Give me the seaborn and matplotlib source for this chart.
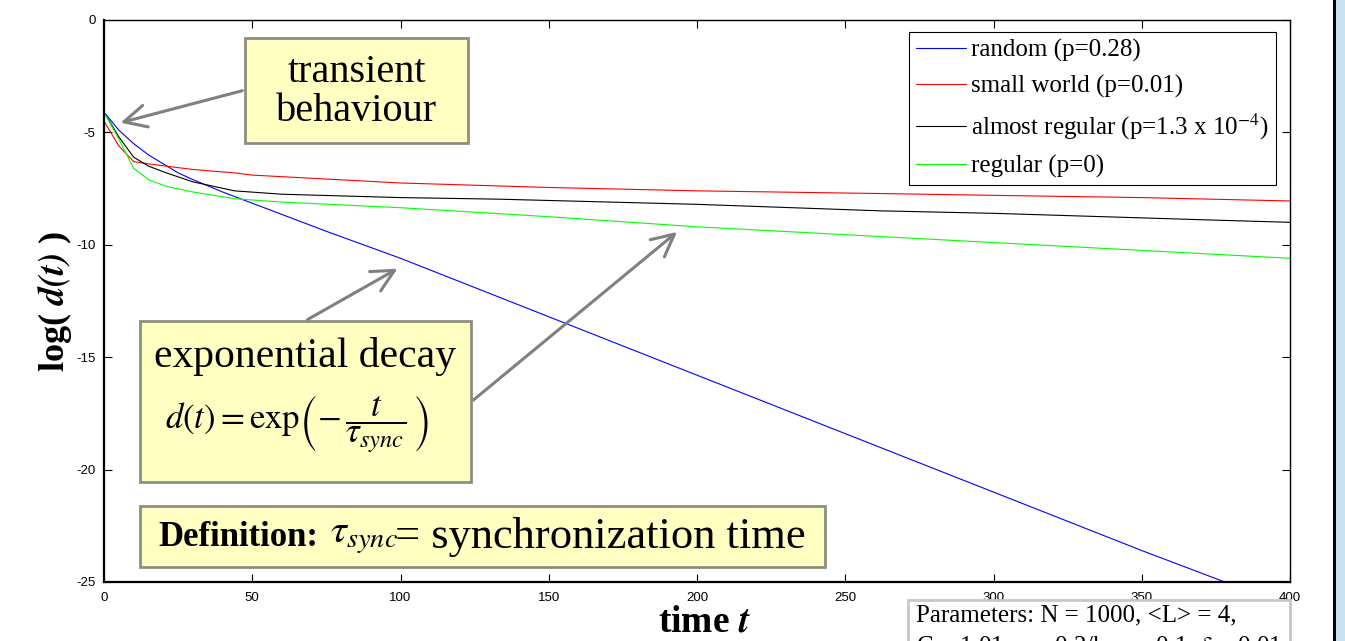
import matplotlib
matplotlib.use('Agg')
import matplotlib.pyplot as plt
from matplotlib.patches import Rectangle
import numpy as np
import pandas as pd
import seaborn as sns

# values (t, log d(t))
t_random = [0, 5, 10, 15, 20, 25, 30, 40, 50, 75, 100, 150, 200, 250, 300, 350, 378, 400]
y_random = [-4.1, -4.9, -5.5, -6.0, -6.4, -6.8, -7.1, -7.65, -8.15, -9.4, -10.6, -13.2,
            -15.8, -18.4, -21.0, -23.6, -25.0, -26.1]

t_small = [0, 5, 10, 15, 21, 30, 44, 50, 100, 150, 200, 262, 300, 350, 400]
y_small = [-4.5, -5.6, -6.3, -6.4, -6.5, -6.65, -6.8, -6.9, -7.25, -7.45, -7.6, -7.72,
           -7.8, -7.9, -8.05]

t_almost = [0, 5, 10, 15, 21, 30, 44, 60, 100, 133, 200, 262, 300, 374, 400]
y_almost = [-4.1, -5.2, -6.1, -6.5, -6.8, -7.2, -7.6, -7.75, -7.9, -7.97, -8.2, -8.49,
            -8.6, -8.9, -9.0]

t_regular = [0, 5, 10, 15, 21, 30, 44, 60, 100, 150, 200, 250, 300, 350, 400]
y_regular = [-4.1, -5.3, -6.6, -7.1, -7.4, -7.65, -7.95, -8.1, -8.35, -8.75, -9.2,
             -9.55, -9.9, -10.25, -10.6]

labels = ['random (p=0.28)', 'small world (p=0.01)',
          'almost regular (p=1.3 x 10$^{-4}$)', 'regular (p=0)']
colors = ['#0000FF', '#FF0000', '#000000', '#00FF00']

x_ticks = [0, 50, 100, 150, 200, 250, 300, 350, 400]
y_ticks = [0, -5, -10, -15, -20, -25]

frames = []
for t, y, lab in zip([t_random, t_small, t_almost, t_regular],
                     [y_random, y_small, y_almost, y_regular], labels):
    frames.append(pd.DataFrame({'t': t, 'logd': y, 'network': lab}))
df = pd.concat(frames, ignore_index=True)

sns.set_theme(style='ticks', rc={'text.color': 'black', 'axes.edgecolor': 'black',
                                 'xtick.color': 'black', 'ytick.color': 'black',
                                 'axes.labelcolor': 'black',
                                 'axes.unicode_minus': False})
plt.rcParams['mathtext.fontset'] = 'stix'
plt.rcParams['font.family'] = ['Liberation Serif', 'DejaVu Serif']

W, H = 1345, 641
fig = plt.figure(figsize=(W / 100, H / 100), dpi=100)
fig.patch.set_facecolor('white')


def fx(px):
    return px / W


def fy(py):
    return 1 - py / H


ax = fig.add_axes([fx(104), fy(582), fx(1290) - fx(104), fy(20) - fy(582)])
sns.lineplot(data=df, x='t', y='logd', hue='network', palette=colors,
             hue_order=labels, linewidth=0.8, ax=ax, sort=False)

ax.set_xlim(0, 400)
ax.set_ylim(-25, 0)
ax.set_xticks(x_ticks)
ax.set_yticks(y_ticks)
ax.tick_params(direction='in', top=True, right=True, length=6, width=0.8,
               labelsize=9.5)
ax.tick_params(axis='x', pad=7)
ax.tick_params(axis='y', pad=6)
for lab in ax.get_xticklabels() + ax.get_yticklabels():
    lab.set_family('Liberation Sans')
for s in ['left', 'bottom']:
    ax.spines[s].set_linewidth(1.6)
for s in ['top', 'right']:
    ax.spines[s].set_linewidth(1.0)
ax.set_xlabel('')
ax.set_ylabel('')

leg = ax.legend(loc='upper right', bbox_to_anchor=(0.9885, 0.979), fontsize=18,
                frameon=True, fancybox=False, edgecolor='black', framealpha=1,
                handlelength=2.0, handletextpad=0.2, labelspacing=0.52,
                borderpad=0.3, borderaxespad=0)
leg.get_frame().set_linewidth(0.8)
leg.set_title(None)

# axis labels
fig.text(fx(55), fy(302), r'log( $\mathbfit{d(t)}$ )', rotation=90, fontsize=26,
         fontweight='bold', ha='center', va='center')
fig.text(fx(704), fy(622), r'time $\mathbfit{t}$', fontsize=27, fontweight='bold',
         ha='center', va='center')

# annotation boxes
box_fc = '#FFFFC2'
box_ec = '#8E8E80'
for (x0, y0, x1, y1) in [(245, 38, 468, 143), (140, 321, 471, 482), (140, 506, 825, 567)]:
    fig.patches.append(Rectangle((fx(x0), fy(y1)), fx(x1) - fx(x0), fy(y0) - fy(y1),
                                 transform=fig.transFigure, facecolor=box_fc,
                                 edgecolor=box_ec, linewidth=2, zorder=5))

fig.text(fx(357), fy(92), 'transient\nbehaviour', fontsize=29, ha='center',
         va='center', linespacing=1.1, zorder=6)
fig.text(fx(305), fy(356), 'exponential decay', fontsize=30, ha='center',
         va='center', zorder=6)
fig.text(fx(297), fy(425), r'$d(t) = \mathrm{exp}\left(-\,\dfrac{t}{\tau_{sync}}\,\right)$',
         fontsize=25, ha='center', va='center', zorder=6)
fig.text(fx(158), fy(538), 'Definition:', fontsize=25, fontweight='bold',
         ha='left', va='center', zorder=6)
fig.text(fx(330), fy(538), r'$\tau_{sync}$', fontsize=29,
         ha='left', va='center', zorder=6)
fig.text(fx(395), fy(537), '= synchronization time', fontsize=32,
         ha='left', va='center', zorder=6)

# arrows
arrow_kw = dict(arrowstyle='->,head_length=0.8,head_width=0.4', color='#808080',
                lw=2.2, mutation_scale=20)
ax.annotate('', xy=(4.7, -4.6), xycoords='data', xytext=(fx(245), fy(90)),
            textcoords='figure fraction', arrowprops=arrow_kw, zorder=6)
ax.annotate('', xy=(99.8, -11.0), xycoords='data', xytext=(fx(305), fy(321)),
            textcoords='figure fraction', arrowprops=arrow_kw, zorder=6)
ax.annotate('', xy=(194, -9.35), xycoords='data', xytext=(fx(471), fy(402)),
            textcoords='figure fraction', arrowprops=arrow_kw, zorder=6)

# parameters box, cut by the bottom edge
fig.patches.append(Rectangle((fx(908), fy(660)), fx(1290) - fx(908), fy(600) - fy(660),
                             transform=fig.transFigure, facecolor='white',
                             edgecolor='#C8C8C8', linewidth=2, zorder=5))
fig.text(fx(916), fy(615), 'Parameters: N = 1000, <L> = 4,', fontsize=18,
         ha='left', va='center', zorder=6)
fig.text(fx(916), fy(647), r'C = 1.01, $\sigma$ = 0.2/k, $\varepsilon$ = 0.1, $\delta$ = 0.01',
         fontsize=18, ha='left', va='center', zorder=6)

# slide edge on the right
fig.patches.append(Rectangle((fx(1333), 0), fx(3), 1, transform=fig.transFigure,
                             facecolor='black', edgecolor='none', zorder=5))
fig.patches.append(Rectangle((fx(1336), 0), fx(9), 1, transform=fig.transFigure,
                             facecolor='#C5E4EE', edgecolor='none', zorder=5))

fig.savefig('out.png', dpi=100)
